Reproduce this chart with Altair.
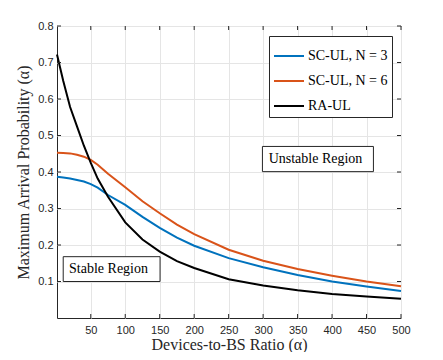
import altair as alt
import pandas as pd

# ---- data ----
alpha = [1, 10, 20, 30, 40, 50, 60, 75, 100, 125, 150, 175, 200, 250, 300, 350, 400, 450, 500]
sc_n3 = [0.387, 0.385, 0.382, 0.378, 0.374, 0.367, 0.357, 0.337, 0.310, 0.277, 0.247, 0.220, 0.198, 0.164, 0.139, 0.118, 0.100, 0.086, 0.074]
sc_n6 = [0.453, 0.452, 0.451, 0.447, 0.442, 0.433, 0.420, 0.395, 0.358, 0.320, 0.287, 0.256, 0.230, 0.187, 0.157, 0.134, 0.116, 0.100, 0.087]
ra_ul = [0.722, 0.650, 0.578, 0.525, 0.472, 0.425, 0.382, 0.332, 0.262, 0.215, 0.182, 0.156, 0.137, 0.106, 0.089, 0.076, 0.066, 0.059, 0.053]

series_names = ["SC-UL, N = 3", "SC-UL, N = 6", "RA-UL"]
series_colors = ["#0072BD", "#D95319", "#000000"]

x_ticks = [50, 100, 150, 200, 250, 300, 350, 400, 450, 500]
y_ticks = [0.1, 0.2, 0.3, 0.4, 0.5, 0.6, 0.7, 0.8]

box_labels = ["Unstable Region", "Stable Region"]
box_x1 = [299, 10]
box_x2 = [460, 150.5]
box_y1 = [0.401, 0.100]
box_y2 = [0.470, 0.168]
text_x = [308, 18.5]
text_y = [0.4355, 0.134]

W, H = 344, 292
SERIF = "Liberation Serif"
SANS = "Liberation Sans"
AXC = "#262626"

rows = []
for name, vals in zip(series_names, [sc_n3, sc_n6, ra_ul]):
    for a, v in zip(alpha, vals):
        rows.append({"alpha": a, "p": v, "series": name})
df = pd.DataFrame(rows)

xs = alt.Scale(domain=[1, 500], nice=False)
ys = alt.Scale(domain=[0, 0.8], nice=False)

xaxis = alt.Axis(values=x_ticks, title="Devices-to-BS Ratio (α)", format="d",
                 labelPadding=6, titlePadding=1, labelOverlap=False, labelBound=False,
                 labelFlush=False, tickSize=0)
yaxis = alt.Axis(values=y_ticks, title="Maximum Arrival Probability (α)", format=".1f",
                 labelPadding=4, titlePadding=6, labelOverlap=False, labelBound=False,
                 labelFlush=False, tickSize=0)

lines = alt.Chart(df).mark_line(strokeWidth=2).encode(
    x=alt.X("alpha:Q", scale=xs, axis=xaxis),
    y=alt.Y("p:Q", scale=ys, axis=yaxis),
    color=alt.Color("series:N",
                    scale=alt.Scale(domain=series_names, range=series_colors),
                    legend=alt.Legend(title=None, orient="none", legendX=212, legendY=10,
                                      symbolType="stroke", symbolSize=900, symbolStrokeWidth=2,
                                      labelFont=SERIF, labelFontSize=14, labelColor="black",
                                      rowPadding=2, padding=4, strokeColor=AXC,
                                      fillColor="white", labelOffset=3)),
    order=alt.Order("alpha:Q"),
)

bdf = pd.DataFrame({"label": box_labels, "x1": box_x1, "x2": box_x2,
                    "y1": box_y1, "y2": box_y2, "tx": text_x, "ty": text_y})
boxes = alt.Chart(bdf).mark_rect(fill="white", stroke=AXC, strokeWidth=1).encode(
    x=alt.X("x1:Q", scale=xs, axis=xaxis), x2="x2:Q",
    y=alt.Y("y1:Q", scale=ys, axis=yaxis), y2="y2:Q")
texts = alt.Chart(bdf).mark_text(align="left", baseline="middle", font=SERIF,
                                 fontSize=14, color="black").encode(
    x=alt.X("tx:Q", scale=xs, axis=xaxis), y=alt.Y("ty:Q", scale=ys, axis=yaxis),
    text="label:N")

xt = pd.DataFrame({"xt": x_ticks})
yt = pd.DataFrame({"yt": y_ticks})
tick_style = dict(color=AXC, strokeWidth=1)
xb = alt.Chart(xt).mark_rule(**tick_style).encode(
    x=alt.X("xt:Q", scale=xs, axis=xaxis), y=alt.value(H), y2=alt.value(H - 4))
xtp = alt.Chart(xt).mark_rule(**tick_style).encode(
    x=alt.X("xt:Q", scale=xs, axis=xaxis), y=alt.value(0), y2=alt.value(4))
yl = alt.Chart(yt).mark_rule(**tick_style).encode(
    y=alt.Y("yt:Q", scale=ys, axis=yaxis), x=alt.value(0), x2=alt.value(4))
yr = alt.Chart(yt).mark_rule(**tick_style).encode(
    y=alt.Y("yt:Q", scale=ys, axis=yaxis), x=alt.value(W), x2=alt.value(W - 4))

chart = alt.layer(lines, boxes, texts, xb, xtp, yl, yr).properties(
    width=W, height=H,
    background="white",
    autosize=alt.AutoSizeParams(type="none"),
    padding={"left": 49, "top": 18, "right": 30, "bottom": 34},
).configure_view(stroke=AXC, strokeWidth=1).configure_axis(
    grid=True, gridColor="#e5e5e5", gridWidth=1, domain=False,
    labelFont=SANS, labelFontSize=11, labelColor=AXC,
    titleFont=SERIF, titleFontSize=16, titleFontWeight="normal", titleColor=AXC,
)

chart.save("out.html", embed_options={"renderer": "svg", "actions": False})
